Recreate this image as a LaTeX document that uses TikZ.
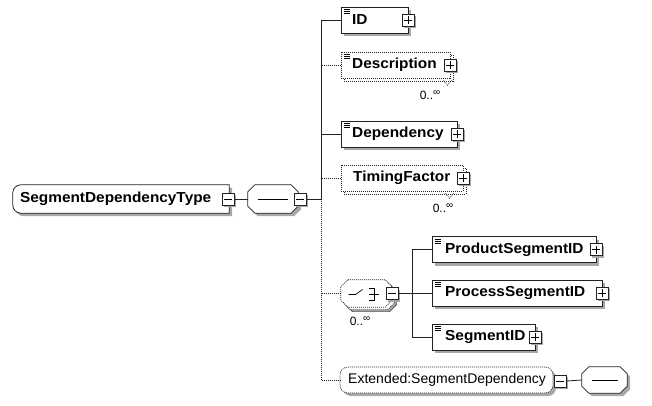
\documentclass[tikz,border=0pt]{standalone}
\usepackage{fontspec}
\setmainfont{Liberation Sans}
\newfontfamily\lblfont[FakeStretch=1.06]{Liberation Sans}
\usetikzlibrary{shadows,calc}
\definecolor{shadowgray}{HTML}{A8A8A8}
\definecolor{lineblack}{HTML}{222222}
\tikzset{
  shad/.style={drop shadow={shadow xshift=3pt,shadow yshift=-3pt,opacity=1,fill=shadowgray}},
  solidbox/.style={draw=lineblack,fill=white,line width=0.8pt,inner sep=0pt,shad},
  optline/.style={dash pattern=on 1pt off 1pt},
  optbox/.style={draw=lineblack,fill=white,line width=0.7pt,inner sep=0pt,optline},
  holder/.style={rectangle,inner sep=0pt},
  pmbox/.style={draw=lineblack,fill=white,line width=0.8pt,minimum size=12pt,inner sep=0pt,
    drop shadow={shadow xshift=2pt,shadow yshift=-2pt,opacity=1,fill=shadowgray}},
  conn/.style={draw=lineblack,line width=0.8pt},
  optconn/.style={conn,optline},
  lbl/.style={font=\lblfont\fontsize{14.5}{16}\selectfont\bfseries,anchor=west,inner sep=0pt},
  lblreg/.style={font=\fontsize{14}{16}\selectfont,anchor=west,inner sep=0pt},
  card/.style={font=\fontsize{12}{13}\selectfont,inner sep=0pt},
}
\newcommand\plusat[2]{%
  \node[pmbox] (#1) at (#2) {};
  \draw[line width=0.7pt] ([xshift=-4pt]#1.center) -- ([xshift=4pt]#1.center);
  \draw[line width=0.7pt] ([yshift=-4pt]#1.center) -- ([yshift=4pt]#1.center);}
\newcommand\minusat[2]{%
  \node[pmbox] (#1) at (#2) {};
  \draw[line width=0.7pt] ([xshift=-4pt]#1.center) -- ([xshift=4pt]#1.center);}
\newcommand\simpleicon[1]{%
  \foreach \dy in {3,5,7}{\draw[line width=0.5pt] ([xshift=3pt,yshift=-\dy pt]#1.north west) -- ++(6,0);}}
\newcommand\octdraw[2]{%
  \draw[#2] ([xshift=7pt]#1.north west) -- ([xshift=-7pt]#1.north east) -- ([yshift=-7pt]#1.north east)
   -- ([yshift=7pt]#1.south east) -- ([xshift=-7pt]#1.south east) -- ([xshift=7pt]#1.south west)
   -- ([yshift=7pt]#1.south west) -- ([yshift=-7pt]#1.north west) -- cycle;}
\newcommand\infsym{\raisebox{3.5pt}{\fontsize{10}{10}\selectfont ∞}}
\begin{document}
\begin{tikzpicture}[x=1pt,y=-1pt]
\useasboundingbox (0,0) rectangle (652,406);

% root type
\node[holder,minimum width=216pt,minimum height=28pt] (type) at (121,199) {};
\draw[draw=lineblack,fill=white,line width=0.8pt,shad]
  (type.north east) [rounded corners=8pt] -- (type.north west) -- (type.south west) [sharp corners] -- (type.south east) -- cycle;
\node[lbl] (typet) at (20,199) {SegmentDependencyType};
\minusat{typem}{228,199}

% sequence compositor
\node[holder,minimum width=50pt,minimum height=28pt] (seq) at (273,199) {};
\octdraw{seq}{draw=lineblack,fill=white,line width=0.8pt,shad}
\draw[line width=0.7pt] ([xshift=-15pt]seq.center) -- ([xshift=15pt]seq.center);
\minusat{seqm}{300,199}
\draw[conn] (typem.east) -- (seq.west);

% trunk
\coordinate (tmid) at (321.5,199);
\draw[conn] (seqm.east) -- (tmid);

% ID
\node[solidbox,minimum width=67pt,minimum height=26pt] (id) at (374.5,20) {};
\simpleicon{id}
\node[lbl] (idt) at (352,20) {ID};
\plusat{idp}{id.east}

% Description
\node[optbox,minimum width=109pt,minimum height=26pt] (descb) at (398.5,68) {};
\node[optbox,minimum width=109pt,minimum height=26pt] (desc) at (395.5,65) {};
\simpleicon{desc}
\node[lbl] (desct) at (352,65) {Description};
\plusat{descp}{desc.east}
\node[card] (descc) at (430,95) {0..\infsym};
\draw[optconn,line width=0.6pt] ([xshift=3pt,yshift=1pt]descb.south -| descc.east) -- ++(4,5) -- ++(4,-5);

% Dependency
\node[solidbox,minimum width=116pt,minimum height=26pt] (dep) at (399,134) {};
\simpleicon{dep}
\node[lbl] (dept) at (352,134) {Dependency};
\plusat{depp}{dep.east}

% TimingFactor
\node[optbox,minimum width=122pt,minimum height=26pt] (timb) at (405,181) {};
\node[optbox,minimum width=122pt,minimum height=26pt] (tim) at (402,178) {};
\node[lbl] (timt) at (353,178) {TimingFactor};
\plusat{timp}{tim.east}
\node[card] (timc) at (443,208) {0..\infsym};
\draw[optconn,line width=0.6pt] ([xshift=-8pt,yshift=1pt]timb.south -| timc.east) -- ++(4,5) -- ++(4,-5);

% choice compositor
\node[holder,minimum width=51pt,minimum height=27pt] (chs) at (371,298) {};
\node[holder,minimum width=51pt,minimum height=27pt] (chb) at (369,296) {};
\node[holder,minimum width=51pt,minimum height=27pt] (ch) at (366.5,293.5) {};
\octdraw{chs}{fill=shadowgray}
\octdraw{chb}{draw=lineblack,fill=white,line width=0.7pt,optline}
\octdraw{ch}{draw=lineblack,fill=white,line width=0.7pt,optline}
\begin{scope}[shift={(ch.center)},line width=0.7pt]
  \draw (-18,1) -- (-11,1) -- (-4,-4);
  \draw (8,-5) -- (8,7);
  \draw (2,-5) -- (8,-5);
  \draw (2,1) -- (12,1);
  \draw (2,7) -- (8,7);
\end{scope}
\minusat{chm}{392,293.5}
\node[card] (chc) at (360,321) {0..\infsym};

% Extended
\node[optbox,rounded corners=8pt,minimum width=213pt,minimum height=26pt,
  drop shadow={shadow xshift=3pt,shadow yshift=-3pt,opacity=1,fill=shadowgray}] (ext) at (446.5,380) {};
\node[lblreg] (extt) at (348,380) {Extended:SegmentDependency};
\minusat{extm}{560,381}
\node[holder,minimum width=45pt,minimum height=26pt] (exto) at (604.5,380) {};
\octdraw{exto}{draw=lineblack,fill=white,line width=0.8pt,shad}
\draw[line width=0.7pt] ([xshift=-13pt]exto.center) -- ([xshift=13pt]exto.center);
\draw[conn] (extm.east) -- (exto.west);

% trunk lines
\draw[conn] (tmid |- id.west) -- (tmid);
\draw[optconn] (tmid) -- (tmid |- ext.west);
\draw[conn] (tmid |- id.west) -- (id.west);
\draw[optconn] (tmid |- desc.west) -- (desc.west);
\draw[conn] (tmid |- dep.west) -- (dep.west);
\draw[optconn] (tmid |- tim.west) -- (tim.west);
\draw[optconn] (tmid |- ch.west) -- (ch.west);
\draw[optconn] (tmid |- ext.west) -- (ext.west);

% choice children
\node[solidbox,minimum width=164pt,minimum height=26pt] (prod) at (514,249.5) {};
\simpleicon{prod}
\node[lbl] (prodt) at (445,249.5) {ProductSegmentID};
\plusat{prodp}{prod.east}

\node[solidbox,minimum width=170pt,minimum height=26pt] (proc) at (517,293) {};
\simpleicon{proc}
\node[lbl] (proct) at (445,293) {ProcessSegmentID};
\plusat{procp}{proc.east}

\node[solidbox,minimum width=103pt,minimum height=26pt] (sid) at (483.5,337) {};
\simpleicon{sid}
\node[lbl] (sidt) at (445,337) {SegmentID};
\plusat{sidp}{sid.east}

\coordinate (bx) at (412,293);
\draw[conn] (chm.east) -- (bx |- chm.east);
\draw[conn] (bx |- prod.west) -- (bx |- sid.west);
\draw[conn] (bx |- prod.west) -- (prod.west);
\draw[conn] (bx |- proc.west) -- (proc.west);
\draw[conn] (bx |- sid.west) -- (sid.west);
\end{tikzpicture}
\end{document}
